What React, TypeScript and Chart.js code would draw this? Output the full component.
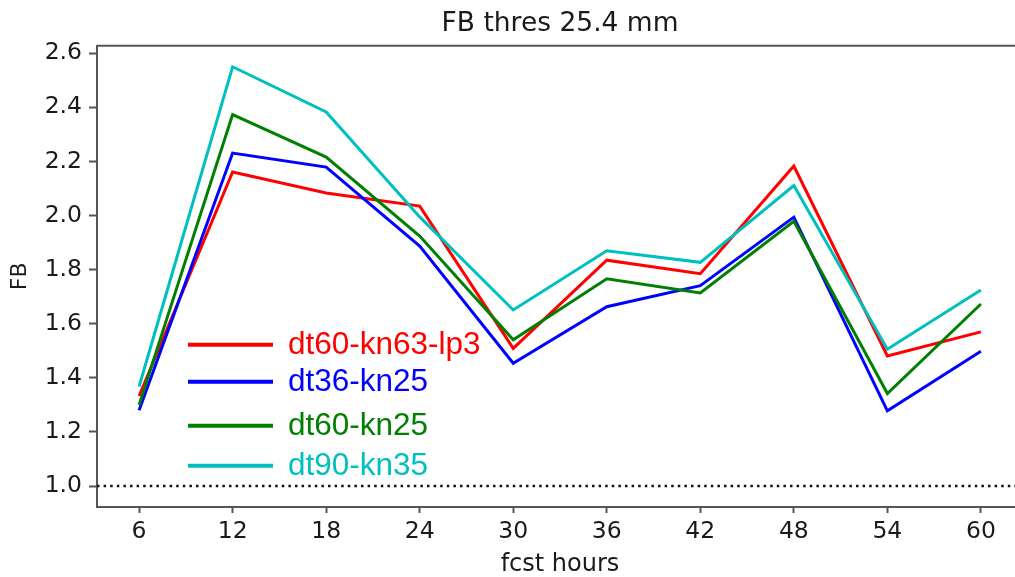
import React, { useEffect, useRef } from "react";
import { Chart, registerables } from "chart.js";

Chart.register(...registerables);

const TITLE = "FB thres 25.4 mm";
const X_LABEL = "fcst hours";
const Y_LABEL = "FB";

const hours = [6, 12, 18, 24, 30, 36, 42, 48, 54, 60];
const xTicks = [6, 12, 18, 24, 30, 36, 42, 48, 54, 60];
const yTicks = [1.0, 1.2, 1.4, 1.6, 1.8, 2.0, 2.2, 2.4, 2.6];

const seriesNames = ["dt60-kn63-lp3", "dt36-kn25", "dt60-kn25", "dt90-kn35"];
const seriesColors = ["#ff0000", "#0000ff", "#008000", "#00bfbf"];

const dt60kn63lp3 = [1.333, 2.161, 2.083, 2.035, 1.509, 1.835, 1.785, 2.183, 1.481, 1.57];
const dt36kn25 = [1.28, 2.231, 2.179, 1.887, 1.454, 1.663, 1.741, 1.994, 1.278, 1.498];
const dt60kn25 = [1.3, 2.373, 2.216, 1.924, 1.541, 1.766, 1.714, 1.979, 1.342, 1.673];
const dt90kn35 = [1.368, 2.55, 2.383, 1.995, 1.651, 1.87, 1.827, 2.111, 1.506, 1.725];

const seriesValues = [dt60kn63lp3, dt36kn25, dt60kn25, dt90kn35];

const refLevel = 1.0;
const xMin = 3.3;
const xMax = 62.7;
const yMin = 0.9225;
const yMax = 2.6275;

const AXIS_COLOR = "#555";
const TEXT_COLOR = "#1a1a1a";

const framePlugin = {
  id: "frameTop",
  afterDraw(chart: any) {
    const { ctx, chartArea } = chart;
    ctx.save();
    ctx.strokeStyle = AXIS_COLOR;
    ctx.lineWidth = 2;
    ctx.beginPath();
    ctx.moveTo(chartArea.left, chartArea.top);
    ctx.lineTo(chartArea.right, chartArea.top);
    ctx.lineTo(chartArea.right, chartArea.bottom);
    ctx.stroke();
    ctx.restore();
  },
};

const legendRowOffsets = [299, 336, 380, 420];

const legendPlugin = {
  id: "insideLegend",
  afterDraw(chart: any) {
    const { ctx, chartArea } = chart;
    const x0 = chartArea.left + 91;
    const x1 = chartArea.left + 176;
    const tx = chartArea.left + 191;
    ctx.save();
    chart.data.datasets.forEach((ds: any, i: number) => {
      if (ds.isRef) return;
      const y = chartArea.top + legendRowOffsets[i];
      ctx.strokeStyle = ds.borderColor;
      ctx.lineWidth = 4;
      ctx.lineCap = "butt";
      ctx.beginPath();
      ctx.moveTo(x0, y);
      ctx.lineTo(x1, y);
      ctx.stroke();
      ctx.fillStyle = ds.borderColor;
      ctx.font = "31.5px 'Liberation Sans', Arial, sans-serif";
      ctx.textBaseline = "middle";
      ctx.textAlign = "left";
      ctx.fillText(ds.label, tx, y + 1);
    });
    ctx.restore();
  },
};

export default function App() {
  const ref = useRef<HTMLCanvasElement>(null);

  useEffect(() => {
    if (!ref.current) return;
    const datasets: any[] = seriesNames.map((name, i) => ({
      label: name,
      data: hours.map((h, j) => ({ x: h, y: seriesValues[i][j] })),
      borderColor: seriesColors[i],
      backgroundColor: seriesColors[i],
      borderWidth: 3,
      pointRadius: 0,
      tension: 0,
      fill: false,
      order: seriesNames.length - i,
    }));
    datasets.push({
      label: "ref",
      isRef: true,
      data: [
        { x: xMin, y: refLevel },
        { x: xMax, y: refLevel },
      ],
      borderColor: "#111",
      borderWidth: 2.5,
      borderDash: [2.5, 4.1],
      borderCapStyle: "butt",
      pointRadius: 0,
      fill: false,
      order: 10,
    });

    const tickFont = { family: "'DejaVu Sans', sans-serif", size: 23.5 };

    const chart = new Chart(ref.current, {
      type: "line",
      data: { datasets },
      options: {
        responsive: false,
        animation: false,
        devicePixelRatio: 1,
        layout: { padding: { left: 0, right: 17, top: 0, bottom: 0 } },
        plugins: {
          legend: { display: false },
          tooltip: { enabled: false },
          title: {
            display: true,
            text: TITLE,
            fullSize: false,
            color: TEXT_COLOR,
            font: { family: "'DejaVu Sans', sans-serif", size: 26.5, weight: "normal" },
            padding: { top: 8, bottom: 6 },
          },
        },
        scales: {
          x: {
            type: "linear",
            min: xMin,
            max: xMax,
            afterBuildTicks: (s: any) => {
              s.ticks = xTicks.map((v) => ({ value: v }));
            },
            afterFit: (s: any) => {
              s.height = 70;
              s.paddingLeft = 0;
              s.paddingRight = 0;
            },
            ticks: {
              color: TEXT_COLOR,
              font: tickFont,
              padding: 5,
              maxRotation: 0,
              autoSkip: false,
              callback: (v: any) => String(v),
            },
            grid: {
              display: true,
              drawOnChartArea: false,
              drawTicks: true,
              tickLength: 6,
              tickColor: AXIS_COLOR,
              tickWidth: 2,
            },
            border: { display: true, color: AXIS_COLOR, width: 2 },
            title: {
              display: true,
              text: X_LABEL,
              color: TEXT_COLOR,
              font: { family: "'DejaVu Sans', sans-serif", size: 24, lineHeight: 1 },
              padding: { top: 0, bottom: 0 },
            },
          },
          y: {
            type: "linear",
            min: yMin,
            max: yMax,
            afterBuildTicks: (s: any) => {
              s.ticks = yTicks.map((v) => ({ value: v }));
            },
            afterFit: (s: any) => {
              s.width = 97;
              s.paddingTop = 0;
              s.paddingBottom = 0;
            },
            ticks: {
              color: TEXT_COLOR,
              font: tickFont,
              padding: 7,
              autoSkip: false,
              callback: (v: any) => Number(v).toFixed(1),
            },
            grid: {
              display: true,
              drawOnChartArea: false,
              drawTicks: true,
              tickLength: 8,
              tickColor: AXIS_COLOR,
              tickWidth: 2,
            },
            border: { display: true, color: AXIS_COLOR, width: 2 },
            title: {
              display: true,
              text: Y_LABEL,
              color: TEXT_COLOR,
              font: { family: "'DejaVu Sans', sans-serif", size: 22, lineHeight: 1 },
              padding: { top: 9, bottom: 0 },
            },
          },
        },
      } as any,
      plugins: [framePlugin, legendPlugin],
    });
    return () => chart.destroy();
  }, []);

  return (
    <div
      style={{
        position: "fixed",
        left: 0,
        top: 0,
        width: 1015,
        height: 577,
        overflow: "hidden",
        background: "#fff",
      }}
    >
      <canvas ref={ref} width={1040} height={577} style={{ display: "block" }} />
    </div>
  );
}
